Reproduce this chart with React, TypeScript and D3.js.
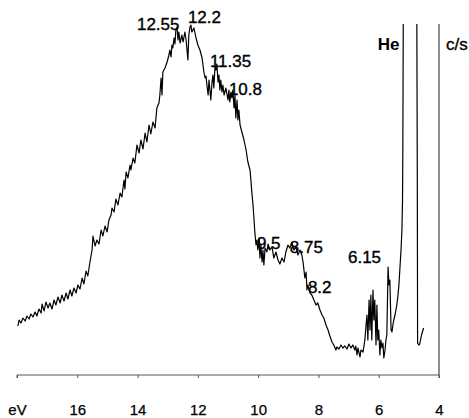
import React, { useEffect, useRef } from "react";
import * as d3 from "d3";

// photoelectron spectrum, energy in eV and counts (c/s, arbitrary units)
const energy = [
  17.97, 17.93, 17.87, 17.8, 17.73, 17.67, 17.6, 17.54, 17.47, 17.4, 17.34, 17.27, 17.2, 17.17, 17.1, 17.04,
  16.97, 16.91, 16.84, 16.77, 16.71, 16.64, 16.57, 16.51, 16.44, 16.37, 16.31, 16.24, 16.18, 16.11, 16.04,
  15.98, 15.91, 15.84, 15.78, 15.71, 15.65, 15.58, 15.51, 15.48, 15.41, 15.35, 15.28, 15.21, 15.15, 15.08,
  15.01, 14.95, 14.88, 14.85, 14.78, 14.72, 14.65, 14.58, 14.52, 14.45, 14.42, 14.38, 14.32, 14.25, 14.22,
  14.15, 14.09, 14.02, 13.95, 13.89, 13.82, 13.75, 13.69, 13.62, 13.56, 13.49, 13.42, 13.36, 13.29, 13.26,
  13.22, 13.19, 13.16, 13.09, 13.02, 12.96, 12.93, 12.89, 12.86, 12.83, 12.79, 12.76, 12.73, 12.69, 12.66,
  12.63, 12.59, 12.53, 12.49, 12.43, 12.39, 12.36, 12.33, 12.3, 12.26, 12.23, 12.2, 12.13, 12.06, 12.0,
  11.93, 11.86, 11.8, 11.76, 11.73, 11.7, 11.66, 11.63, 11.6, 11.57, 11.53, 11.5, 11.47, 11.43, 11.4, 11.37,
  11.33, 11.3, 11.27, 11.24, 11.2, 11.17, 11.13, 11.07, 11.0, 10.97, 10.94, 10.9, 10.87, 10.84, 10.8, 10.77,
  10.74, 10.7, 10.67, 10.64, 10.6, 10.54, 10.47, 10.4, 10.34, 10.27, 10.24, 10.21, 10.17, 10.14, 10.11,
  10.07, 10.04, 10.01, 9.97, 9.94, 9.91, 9.87, 9.84, 9.81, 9.77, 9.71, 9.67, 9.61, 9.54, 9.48, 9.41, 9.34,
  9.28, 9.21, 9.14, 9.08, 9.01, 8.95, 8.88, 8.81, 8.75, 8.68, 8.61, 8.55, 8.51, 8.48, 8.45, 8.41, 8.38,
  8.35, 8.28, 8.22, 8.15, 8.08, 8.02, 7.95, 7.88, 7.82, 7.75, 7.68, 7.62, 7.55, 7.49, 7.42, 7.39, 7.32,
  7.25, 7.19, 7.12, 7.05, 6.99, 6.92, 6.86, 6.79, 6.76, 6.72, 6.69, 6.62, 6.59, 6.52, 6.46, 6.42, 6.39,
  6.36, 6.32, 6.29, 6.26, 6.23, 6.19, 6.16, 6.13, 6.09, 6.06, 6.03, 6.0, 5.96, 5.93, 5.89, 5.86, 5.83,
  5.79, 5.76, 5.73, 5.69, 5.66, 5.63, 5.59, 5.56, 5.53, 5.5, 5.46, 5.43, 5.4, 5.36, 5.33, 5.3, 5.26, 5.23,
  5.21, 5.2, 5.18, 4.97, 4.74, 4.72, 4.71, 4.67, 4.64, 4.58, 4.51,
];
const counts = [
  49, 55, 52, 57, 54, 59, 56, 61, 58, 63, 59, 66, 62, 71, 64, 73,
  67, 72, 66, 75, 70, 78, 72, 80, 74, 82, 76, 85, 79, 87, 82,
  90, 86, 97, 91, 104, 99, 113, 125, 139, 129, 135, 131, 145, 139, 149,
  143, 155, 160, 167, 163, 176, 170, 182, 178, 195, 186, 203, 197, 210, 205,
  217, 212, 230, 222, 235, 226, 242, 233, 250, 241, 253, 247, 267, 272, 280,
  297, 280, 303, 307, 313, 320, 325, 318, 330, 327, 337, 331, 345, 348, 335,
  343, 332, 340, 333, 343, 335, 325, 315, 340, 348, 350, 343, 347, 337, 330,
  325, 317, 303, 297, 299, 290, 280, 295, 285, 275, 293, 300, 287, 309, 305, 311,
  293, 300, 285, 295, 283, 290, 280, 287, 275, 285, 273, 283, 277, 285, 267, 280,
  257, 275, 255, 265, 250, 243, 235, 225, 213, 205, 195, 183, 170, 157, 143,
  130, 135, 125, 137, 117, 130, 113, 125, 110, 127, 123, 131, 125, 128, 117, 123, 115,
  111, 117, 113, 123, 130, 127, 132, 125, 128, 120, 125, 120, 113, 105, 97, 103, 85,
  90, 82, 80, 75, 70, 72, 65, 60, 57, 50, 45, 39, 33, 30, 25, 28, 26,
  30, 27, 29, 26, 31, 27, 30, 25, 29, 20, 27, 18, 25, 23, 35, 50, 60,
  35, 75, 45, 80, 35, 85, 55, 75, 30, 70, 35, 45, 20, 35, 27, 32, 17,
  25, 35, 40, 108, 90, 95, 45, 43, 50, 55, 60, 65, 70, 80, 90, 105, 125, 145,
  175, 225, 400, 900, 400, 200, 32, 30, 31, 40, 47,
];

const xTicks = [18, 16, 14, 12, 10, 8, 6, 4];

const noteText = ["12.55", "12.2", "11.35", "10.8", "9.5", "8.75", "8.2", "6.15", "He", "c/s"];
const noteEnergy = [14.02, 12.33, 11.6, 10.97, 10.04, 8.95, 8.35, 7.02, 6.03, 3.77];
const noteCount = [345, 352, 308, 280, 126, 122, 82, 112, 325, 325];

const W = 469;
const H = 418;
const font = "Arial, 'Liberation Sans', sans-serif";

export default function App() {
  const ref = useRef<SVGSVGElement>(null);

  useEffect(() => {
    const svg = d3.select(ref.current);
    svg.selectAll("*").remove();

    const x = d3.scaleLinear().domain([18, 4]).range([17, 439]);
    const y = d3.scaleLinear().domain([0, 351]).range([375, 24]);

    svg.append("rect").attr("width", W).attr("height", H).attr("fill", "#fff");

    svg.append("clipPath").attr("id", "plotclip")
      .append("rect")
      .attr("x", 0).attr("y", y(351))
      .attr("width", W).attr("height", H);

    const data = energy.map((e, i) => ({ e, c: counts[i] }));

    const line = d3.line<{ e: number; c: number }>()
      .x(d => x(d.e))
      .y(d => y(d.c));

    svg.append("path")
      .datum(data)
      .attr("clip-path", "url(#plotclip)")
      .attr("d", line)
      .attr("fill", "none")
      .attr("stroke", "#000")
      .attr("stroke-width", 1.2)
      .attr("stroke-linejoin", "round");

    // bottom axis
    const xAxis = d3.axisBottom(x)
      .tickValues(xTicks)
      .tickSize(3)
      .tickPadding(26)
      .tickFormat(d => (d === 18 ? "eV" : String(d)));

    const ax = svg.append("g")
      .attr("transform", `translate(0, ${y(0)})`)
      .call(xAxis);
    ax.select(".domain").attr("stroke", "#555").attr("d", `M${x(18)},3V0H${x(4)}V3`);
    ax.selectAll(".tick line").attr("stroke", "#555");
    ax.selectAll("text")
      .attr("font-family", font)
      .attr("font-size", 15)
      .attr("fill", "#000")
      .attr("stroke", "#000")
      .attr("stroke-width", 0.25);

    // right-hand count axis line
    svg.append("line")
      .attr("x1", x(4)).attr("x2", x(4))
      .attr("y1", y(351)).attr("y2", y(0))
      .attr("stroke", "#333")
      .attr("stroke-width", 1.1);

    svg.selectAll(".note")
      .data(noteText)
      .join("text")
      .attr("class", "note")
      .attr("x", (_, i) => x(noteEnergy[i]))
      .attr("y", (_, i) => y(noteCount[i]))
      .attr("font-family", font)
      .attr("font-size", 17)
      .attr("font-weight", d => (d === "He" ? "bold" : "normal"))
      .attr("fill", "#000")
      .attr("stroke", "#000")
      .attr("stroke-width", d => (d === "He" ? 0 : 0.35))
      .text(d => d);
  }, []);

  return (
    <svg
      ref={ref}
      width={W}
      height={H}
      style={{ position: "absolute", left: 0, top: 0 }}
    />
  );
}
